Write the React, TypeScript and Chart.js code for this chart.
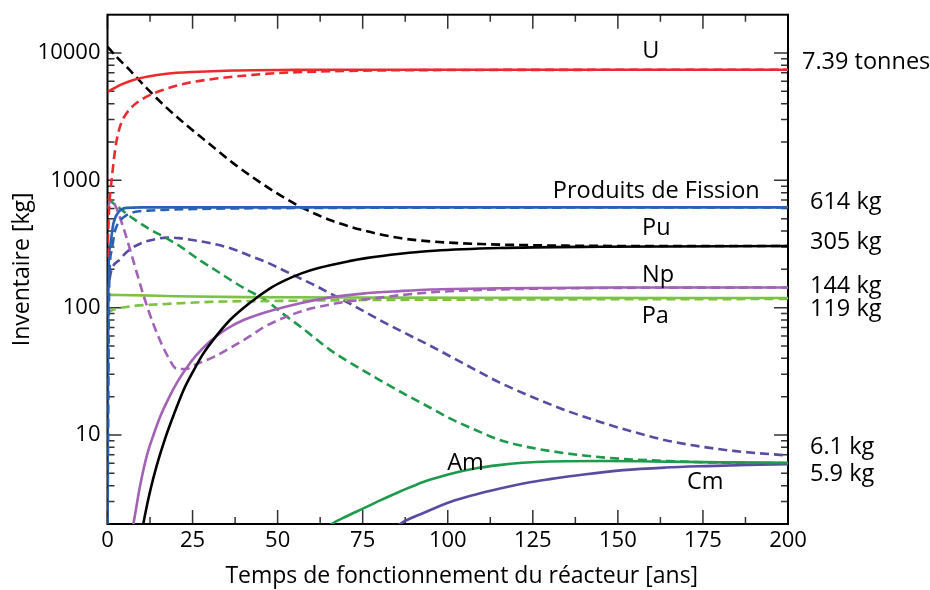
import React, { useEffect, useRef } from "react";
import { Chart, registerables } from "chart.js";

Chart.register(...registerables);

const FONT = "'Open Sans', sans-serif";

// Axis ranges and tick labels
const X_MIN = 0;
const X_MAX = 200;
const Y_MIN = 2;
const Y_MAX = 20000;
const xTickValues = [0, 25, 50, 75, 100, 125, 150, 175, 200];
const yTickValues = [10, 100, 1000, 10000];

// U (red)
const uSolidT = [0, 2, 4, 7.6, 12, 17.4, 25, 37, 55, 80, 120, 160, 200];
const uSolidV = [4950, 5300, 5650, 6150, 6550, 6870, 7100, 7300, 7370, 7390, 7395, 7390, 7390];
const uDashT = [0, 0.4, 0.8, 1.2, 2, 2.7, 4, 5.6, 8, 11.5, 16, 23.3, 32, 42.8, 52, 62.5, 80, 100, 140, 200];
const uDashV = [250, 550, 800, 1000, 1550, 2070, 2800, 3360, 3950, 4540, 5100, 5800, 6300, 6740, 7000, 7160, 7300, 7350, 7380, 7390];

// Pu (black)
const puSolidT = [9, 10.5, 12.5, 14.5, 17, 19.5, 22.5, 25, 28, 32, 36, 42, 48, 52, 57, 62, 71, 76, 86, 96, 115, 145, 200];
const puSolidV = [1.2, 2, 3.6, 5.8, 9.5, 14.5, 23, 31, 43, 60, 80, 110, 143, 163, 186, 205, 232, 245, 265, 280, 294, 301, 305];
const puDashT = [0, 2.7, 6, 11.5, 17, 23.3, 30, 37, 44, 50.7, 57, 66, 76, 86, 96, 110, 130, 160, 200];
const puDashV = [11200, 9300, 7600, 5300, 3800, 2700, 1930, 1360, 1000, 765, 614, 481, 400, 352, 330, 316, 308, 305, 305];

// Produits de Fission (blue)
const fpSolidT = [0, 0.24, 0.73, 1.7, 3.2, 5.6, 10, 200];
const fpSolidV = [1.5, 163, 298, 455, 562, 608, 614, 614];
const fpDashT = [0, 0.5, 1.2, 2.2, 3.7, 5.5, 7.6, 12, 17.4, 30, 50, 100, 200];
const fpDashV = [1.5, 150, 280, 400, 483, 530, 562, 578, 587, 598, 605, 610, 612];

// Np (orchid)
const npSolidT = [6, 7.6, 9.5, 11.5, 13.5, 15.5, 18, 20.5, 23, 26, 30, 35, 40, 47, 57, 65, 75, 86, 95, 115, 150, 200];
const npSolidV = [1.3, 2, 3.9, 6.8, 10, 14, 19.5, 26, 33, 42, 54, 68, 80, 93, 109, 120, 129, 135, 139, 142, 144, 144];
const npDashT = [0, 1, 2.2, 4.6, 7.6, 10.5, 13.5, 17.4, 20.5, 23, 26.2, 32, 37, 42, 45.8, 55.6, 65.4, 80, 95, 120, 150, 200];
const npDashV = [600, 700, 640, 430, 233, 127, 74, 43, 33, 33, 36, 42, 50, 60, 70, 91, 106, 120, 132, 140, 143, 144];

// Pa (light green)
const paSolidT = [0, 10, 20, 40, 80, 120, 200];
const paSolidV = [126, 125, 123, 121, 120, 119.5, 119];
const paDashT = [0, 2, 7.6, 17.4, 30, 50, 80, 120, 200];
const paDashV = [92, 97, 103, 107, 111, 113, 115, 116, 117];

// Am (green)
const amSolidT = [62, 65.9, 70, 75.2, 80, 86, 93, 100.7, 108, 115, 122, 130, 145, 160, 180, 200];
const amSolidV = [1.6, 2, 2.28, 2.65, 3.05, 3.6, 4.3, 4.95, 5.45, 5.8, 6.05, 6.2, 6.25, 6.2, 6.1, 6.05];
const amDashT = [0, 3, 7.6, 12, 17.4, 22, 27, 32, 37, 41, 45.8, 51.7, 57, 65.4, 72, 80, 88, 95, 100.6, 108, 115, 122, 130, 140, 151, 165, 176, 200];
const amDashV = [720, 620, 500, 420, 350, 295, 237, 195, 160, 138, 118, 89, 70, 46.6, 36, 27, 20.5, 16.3, 13.5, 11, 9.2, 8.2, 7.5, 6.9, 6.5, 6.25, 6.1, 6.0];

// Cm (indigo)
const cmSolidT = [82, 86, 93, 100.7, 108, 115.4, 123, 130, 140, 151.6, 164, 176, 188, 200];
const cmSolidV = [1.6, 2, 2.45, 2.98, 3.4, 3.8, 4.2, 4.5, 4.9, 5.3, 5.55, 5.7, 5.82, 5.9];
const cmDashT = [0, 1, 3.7, 6.1, 10.5, 14, 17.4, 21, 25, 30, 37, 42, 47, 52, 57, 62, 66, 72, 80, 87, 95, 105, 115, 125, 135, 145, 155, 164, 172, 184, 200];
const cmDashV = [130, 190, 240, 280, 326, 345, 355, 352, 340, 322, 288, 255, 226, 195, 168, 145, 127, 105, 80, 64, 50, 36, 26, 19.8, 15.5, 12.6, 10.5, 9.1, 8.3, 7.5, 6.9];

// Labels inside the plot: text, year, value
const plotLabelText = ["U", "Produits de Fission", "Pu", "Np", "Pa", "Am", "Cm"];
const plotLabelT = [159.7, 161.3, 161.3, 161.8, 161, 105.2, 175.7];
const plotLabelV = [10240, 826, 418, 179, 86, 6.0, 4.25];

// Final inventories shown right of the plot
const endLabelText = ["7.39 tonnes", "614 kg", "305 kg", "144 kg", "119 kg", "6.1 kg", "5.9 kg"];
const endLabelV = [8530, 675, 326, 148, 97.7, 8.03, 4.95];

const C_RED = "#ec2a2e";
const C_BLACK = "#000000";
const C_BLUE = "#2b62b0";
const C_ORCHID = "#a262b6";
const C_LGREEN = "#7ec245";
const C_GREEN = "#1f9a4c";
const C_INDIGO = "#5a4ba2";

const toPts = (t: number[], v: number[]) => t.map((x, i) => ({ x, y: v[i] }));

function ds(label: string, t: number[], v: number[], color: string, dashed: boolean) {
  return {
    label,
    data: toPts(t, v),
    borderColor: color,
    backgroundColor: color,
    borderWidth: 2.6,
    borderDash: dashed ? [9, 5] : [],
    pointRadius: 0,
    fill: false,
    cubicInterpolationMode: "monotone" as const,
    tension: 0.4,
  };
}

const framePlugin = {
  id: "frame",
  beforeDatasetsDraw(chart: any) {
    const { ctx, chartArea: a, scales } = chart;
    const xs = scales.x;
    const ys = scales.y;
    ctx.save();
    ctx.strokeStyle = "#333";
    ctx.lineWidth = 1.5;
    const major = 14;
    const minor = 7;
    const xMinor: number[] = [];
    for (let i = 0; i < xTickValues.length - 1; i++) xMinor.push((xTickValues[i] + xTickValues[i + 1]) / 2);
    const yMinor: number[] = [];
    const decades = [1, ...yTickValues];
    for (const d of decades) for (let m = 2; m <= 9; m++) {
      const v = m * d;
      if (v > Y_MIN && v < Y_MAX) yMinor.push(v);
    }
    ctx.beginPath();
    const hx = (v: number, len: number) => {
      const px = xs.getPixelForValue(v);
      ctx.moveTo(px, a.bottom);
      ctx.lineTo(px, a.bottom - len);
      ctx.moveTo(px, a.top);
      ctx.lineTo(px, a.top + len);
    };
    const vy = (v: number, len: number) => {
      const py = ys.getPixelForValue(v);
      ctx.moveTo(a.left, py);
      ctx.lineTo(a.left + len, py);
      ctx.moveTo(a.right, py);
      ctx.lineTo(a.right - len, py);
    };
    xTickValues.forEach((v) => hx(v, major));
    xMinor.forEach((v) => hx(v, minor));
    yTickValues.forEach((v) => vy(v, major));
    yMinor.forEach((v) => vy(v, minor));
    ctx.stroke();
    ctx.strokeStyle = "#000";
    ctx.lineWidth = 2;
    ctx.strokeRect(a.left, a.top, a.right - a.left, a.bottom - a.top);
    ctx.restore();
  },
  afterDatasetsDraw(chart: any) {
    const { ctx, chartArea: a, scales } = chart;
    const xs = scales.x;
    const ys = scales.y;
    ctx.save();
    ctx.fillStyle = "#000";
    ctx.textBaseline = "middle";
    ctx.font = `23.5px ${FONT}`;
    ctx.textAlign = "center";
    plotLabelText.forEach((txt, i) => {
      ctx.fillText(txt, xs.getPixelForValue(plotLabelT[i]), ys.getPixelForValue(plotLabelV[i]));
    });
    ctx.textAlign = "left";
    endLabelText.forEach((txt, i) => {
      const dx = i === 0 ? 14 : 22;
      ctx.fillText(txt, a.right + dx, ys.getPixelForValue(endLabelV[i]));
    });
    // axis titles
    ctx.font = `23px ${FONT}`;
    ctx.textAlign = "center";
    ctx.fillText("Temps de fonctionnement du réacteur [ans]", (a.left + a.right) / 2 + 14, 576);
    ctx.translate(22, (a.top + a.bottom) / 2);
    ctx.rotate(-Math.PI / 2);
    ctx.fillText("Inventaire [kg]", 0, 0);
    ctx.restore();
  },
};

export default function App() {
  const ref = useRef<HTMLCanvasElement>(null);
  useEffect(() => {
    const datasets = [
      ds("U", uSolidT, uSolidV, C_RED, false),
      ds("U (tirets)", uDashT, uDashV, C_RED, true),
      ds("Produits de Fission", fpSolidT, fpSolidV, C_BLUE, false),
      ds("Produits de Fission (tirets)", fpDashT, fpDashV, C_BLUE, true),
      ds("Pu", puSolidT, puSolidV, C_BLACK, false),
      ds("Pu (tirets)", puDashT, puDashV, C_BLACK, true),
      ds("Np", npSolidT, npSolidV, C_ORCHID, false),
      ds("Np (tirets)", npDashT, npDashV, C_ORCHID, true),
      ds("Pa", paSolidT, paSolidV, C_LGREEN, false),
      ds("Pa (tirets)", paDashT, paDashV, C_LGREEN, true),
      ds("Am", amSolidT, amSolidV, C_GREEN, false),
      ds("Am (tirets)", amDashT, amDashV, C_GREEN, true),
      ds("Cm", cmSolidT, cmSolidV, C_INDIGO, false),
      ds("Cm (tirets)", cmDashT, cmDashV, C_INDIGO, true),
    ];
    const chart = new Chart(ref.current as HTMLCanvasElement, {
      type: "line",
      data: { datasets } as any,
      options: {
        animation: false,
        responsive: false,
        devicePixelRatio: 1,
        parsing: false as any,
        normalized: true,
        layout: { padding: { left: 0, top: 14.7, right: 142, bottom: 0 } },
        plugins: { legend: { display: false }, tooltip: { enabled: false } },
        scales: {
          x: {
            type: "linear",
            position: "bottom",
            min: X_MIN,
            max: X_MAX,
            grid: { display: false, drawTicks: false },
            border: { display: false },
            ticks: {
              color: "#000",
              font: { family: FONT, size: 22 },
              padding: 4,
              maxRotation: 0,
              autoSkip: false,
              callback: (v: any) => String(v),
            },
            afterBuildTicks: (s: any) => {
              s.ticks = xTickValues.map((value) => ({ value }));
            },
            afterFit: (s: any) => {
              s.height = 66;
              s.paddingLeft = 0;
              s.paddingRight = 0;
              s.paddingTop = 0;
              s.paddingBottom = 0;
            },
          },
          y: {
            type: "logarithmic",
            position: "left",
            min: Y_MIN,
            max: Y_MAX,
            grid: { display: false, drawTicks: false },
            border: { display: false },
            ticks: {
              color: "#000",
              font: { family: FONT, size: 22 },
              padding: 7,
              autoSkip: false,
              callback: (v: any) => String(v),
            },
            afterBuildTicks: (s: any) => {
              s.ticks = yTickValues.map((value) => ({ value }));
            },
            afterFit: (s: any) => {
              s.width = 107.5;
              s.paddingLeft = 0;
              s.paddingRight = 0;
              s.paddingTop = 0;
              s.paddingBottom = 0;
            },
          },
        },
      } as any,
      plugins: [framePlugin],
    });
    return () => chart.destroy();
  }, []);
  return (
    <div style={{ position: "fixed", left: 0, top: 0, width: 930, height: 590, background: "#fff" }}>
      <canvas ref={ref} width={930} height={590} style={{ width: 930, height: 590, display: "block" }} />
    </div>
  );
}
